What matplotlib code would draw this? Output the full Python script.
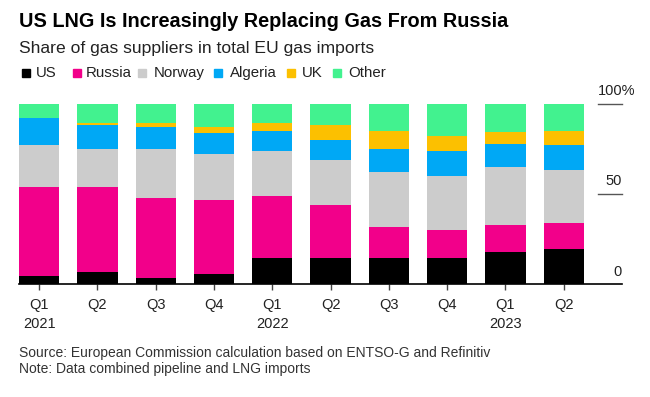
import matplotlib
matplotlib.use("Agg")
import matplotlib.pyplot as plt
import numpy as np
from matplotlib.patches import Rectangle

plt.rcParams['font.family'] = ['Liberation Sans', 'DejaVu Sans']

# Share of EU gas imports by supplier, %
quarters = ['Q1\n2021', 'Q2', 'Q3', 'Q4', 'Q1\n2022', 'Q2', 'Q3', 'Q4', 'Q1\n2023', 'Q2']
series = ['US', 'Russia', 'Norway', 'Algeria', 'UK', 'Other']
us      = [4.8, 6.8, 3.5, 5.9, 14.8, 14.6, 14.6, 14.6, 17.9, 19.6]
russia  = [49.1, 47.1, 44.5, 41.0, 34.1, 29.3, 17.3, 15.3, 15.1, 14.5]
norway  = [23.2, 21.2, 27.1, 25.2, 25.1, 25.1, 30.3, 30.1, 31.9, 29.0]
algeria = [15.2, 12.9, 12.0, 11.8, 10.9, 10.9, 12.7, 14.0, 13.0, 13.8]
uk      = [0.0, 1.1, 2.2, 3.4, 4.2, 8.1, 10.2, 8.1, 6.2, 8.2]
other   = [7.7, 10.9, 10.7, 12.7, 10.9, 12.0, 14.9, 17.9, 15.9, 14.9]
colors = ['#000000', '#f2008a', '#cccccc', '#00a8f5', '#fcc000', '#42f28f']

W, H = 650, 397
fig = plt.figure(figsize=(W / 100, H / 100), dpi=100)
ax = fig.add_axes([19 / W, (H - 284.3) / H, (622 - 19) / W, 180.6 / H])

x = np.arange(len(quarters))
bottom = np.zeros(len(quarters))
for vals, c in zip([us, russia, norway, algeria, uk, other], colors):
    ax.bar(x, vals, width=0.69, bottom=bottom, color=c, edgecolor='none')
    bottom += np.array(vals)

ax.set_xlim(-0.345, 10.0)
ax.set_ylim(0, 100)
for s in ['top', 'right', 'left']:
    ax.spines[s].set_visible(False)
ax.spines['bottom'].set_color('#000000')
ax.spines['bottom'].set_linewidth(1.2)
ax.set_yticks([])
ax.set_xticks(x)
ax.set_xticklabels(quarters, fontsize=10.5, color='#222222', linespacing=1.4)
ax.tick_params(axis='x', length=4, width=1, color='#444444', pad=6)

# right-hand value labels with short guide lines
for v in [100, 50]:
    ax.plot([0.960, 1.0], [v, v], transform=ax.get_yaxis_transform(),
            color='#555555', lw=1, clip_on=False)
for v, lab in [(50, '50'), (0, '0')]:
    ax.text(1.0, v + 7, lab, transform=ax.get_yaxis_transform(),
            ha='right', va='center', fontsize=10.5, color='#222222')
ax.text(0.960, 107, '100%', transform=ax.get_yaxis_transform(),
        ha='left', va='center', fontsize=10.5, color='#222222')

fig.text(19 / W, 1 - 21.5 / H, 'US LNG Is Increasingly Replacing Gas From Russia',
         fontsize=14.3, fontweight='bold', va='center', ha='left')
fig.text(19 / W, 1 - 48 / H, 'Share of gas suppliers in total EU gas imports',
         fontsize=12.6, va='center', ha='left', color='#222222')

sq_x = [21.7, 72.7, 138, 214, 287, 332.7]
tx_x = [36, 85.5, 153.3, 230, 301.7, 348.3]
for name, c, sx, tx in zip(series, colors, sq_x, tx_x):
    fig.patches.append(Rectangle((sx / W, 1 - 77.2 / H), 8.3 / W, 8.3 / H,
                                 transform=fig.transFigure, color=c))
    fig.text(tx / W, 1 - 73 / H, name, fontsize=10.8, va='center', ha='left',
             color='#222222')

fig.text(19 / W, 1 - 352.7 / H,
         'Source: European Commission calculation based on ENTSO-G and Refinitiv',
         fontsize=10, va='center', ha='left', color='#333333')
fig.text(19 / W, 1 - 369 / H, 'Note: Data combined pipeline and LNG imports',
         fontsize=10, va='center', ha='left', color='#333333')

fig.savefig('out.png', dpi=100)
